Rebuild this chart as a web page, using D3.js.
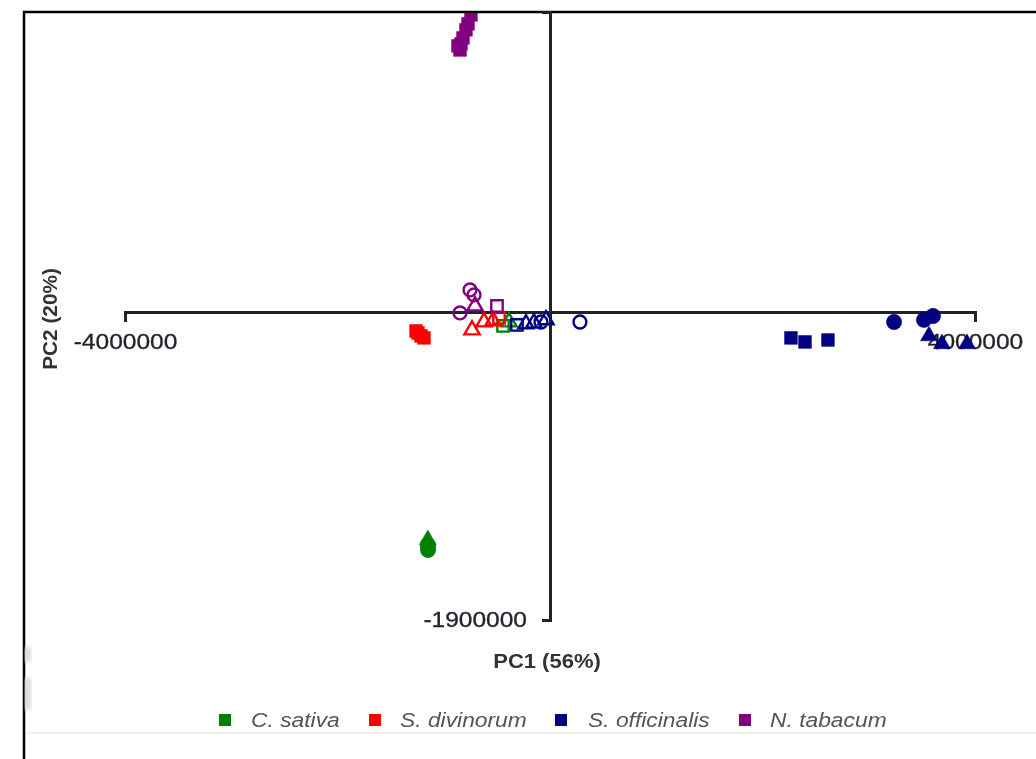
<!DOCTYPE html>
<html>
<head>
<meta charset="utf-8">
<script src="https://cdn.jsdelivr.net/npm/d3@7"></script>
<style>
  html, body { margin: 0; padding: 0; background: #fff; }
  svg { display: block; }
</style>
</head>
<body>
<svg id="chart" width="1036" height="759"></svg>
<script>
// PCA score plot: PC1 vs PC2, four plant species, marker shape = sample preparation
const species = ["C. sativa", "S. divinorum", "S. officinalis", "N. tabacum"];
const speciesColors = ["#008000", "#ff0000", "#000080", "#800080"];

const xTicks = [-4000000, 4000000];
const yTicks = [-1900000];
const xTitle = "PC1 (56%)";
const yTitle = "PC2 (20%)";

// [PC1, PC2] scores per group
const cSativaFilledCircle = [[-1148000, -1468000], [-1150000, -1437000], [-1146000, -1452000]];
const cSativaFilledTriangle = [[-1150000, -1405000]];
const cSativaOpenSquare = [[-442000, -86000]];
const cSativaOpenTriangle = [[-386000, -62000]];

const sDivinorumFilledSquare = [[-1242000, -130000], [-1214000, -148000], [-1261000, -117000], [-1186000, -160000]];
const sDivinorumOpenTriangle = [[-734000, -111000], [-621000, -62000], [-536000, -55000]];
const sDivinorumOpenSquare = [[-480000, -37000]];

const sOfficinalisFilledSquare = [[2268000, -160000], [2400000, -185000], [2616000, -173000]];
const sOfficinalisFilledCircle = [[3238000, -62000], [3520000, -49000], [3605000, -25000]];
const sOfficinalisFilledTriangle = [[3567000, -148000], [3689000, -197000], [3925000, -197000]];
const sOfficinalisOpenSquare = [[-311000, -80000]];
const sOfficinalisOpenTriangle = [[-226000, -74000], [-151000, -68000], [-38000, -49000]];
const sOfficinalisOpenCircle = [[-85000, -62000], [282000, -62000]];

const nTabacumFilledSquare = [[-744000, 1832000], [-772000, 1777000], [-791000, 1740000], [-819000, 1690000],
                              [-838000, 1653000], [-847000, 1616000], [-866000, 1641000], [-715000, 1900000]];
const nTabacumOpenCircle = [[-753000, 136000], [-715000, 105000], [-847000, -6000]];
const nTabacumOpenTriangle = [[-706000, 37000]];
const nTabacumOpenSquare = [[-499000, 37000]];

// group -> species index, symbol, filled
const groups = [
  { s: 0, shape: "circle", filled: true, pts: cSativaFilledCircle },
  { s: 0, shape: "triangle", filled: true, pts: cSativaFilledTriangle },
  { s: 0, shape: "square", filled: false, pts: cSativaOpenSquare },
  { s: 0, shape: "triangle", filled: false, pts: cSativaOpenTriangle },
  { s: 1, shape: "square", filled: true, pts: sDivinorumFilledSquare },
  { s: 1, shape: "triangle", filled: false, pts: sDivinorumOpenTriangle },
  { s: 1, shape: "square", filled: false, pts: sDivinorumOpenSquare },
  { s: 3, shape: "square", filled: true, pts: nTabacumFilledSquare },
  { s: 3, shape: "circle", filled: false, pts: nTabacumOpenCircle },
  { s: 3, shape: "triangle", filled: false, pts: nTabacumOpenTriangle },
  { s: 3, shape: "square", filled: false, pts: nTabacumOpenSquare },
  { s: 2, shape: "square", filled: true, pts: sOfficinalisFilledSquare },
  { s: 2, shape: "circle", filled: true, pts: sOfficinalisFilledCircle },
  { s: 2, shape: "triangle", filled: true, pts: sOfficinalisFilledTriangle },
  { s: 2, shape: "square", filled: false, pts: sOfficinalisOpenSquare },
  { s: 2, shape: "triangle", filled: false, pts: sOfficinalisOpenTriangle },
  { s: 2, shape: "circle", filled: false, pts: sOfficinalisOpenCircle }
];

const svg = d3.select("#chart");
const FONT = "'Liberation Sans', Arial, sans-serif";

// widen text horizontally by a factor, keeping its anchor
function stretch(sel, k) {
  sel.each(function () {
    const len = this.getComputedTextLength();
    d3.select(this).attr("textLength", len * k).attr("lengthAdjust", "spacingAndGlyphs");
  });
}

const x = d3.scaleLinear().domain([-4000000, 4000000]).range([125, 975]);
const y = d3.scaleLinear().domain([-1900000, 1850000]).range([620, 12]);

const defs = svg.append("defs");
defs.append("clipPath").attr("id", "plotClip")
  .append("rect").attr("x", 25).attr("y", 13).attr("width", 1011).attr("height", 718);
defs.append("filter").attr("id", "soft")
  .append("feGaussianBlur").attr("stdDeviation", 0.7);
defs.append("filter").attr("id", "smudge")
  .append("feGaussianBlur").attr("stdDeviation", 2);

// page frame
svg.append("line").attr("x1", 23).attr("x2", 1036).attr("y1", 12).attr("y2", 12)
  .attr("stroke", "#000").attr("stroke-width", 2.5);
svg.append("line").attr("x1", 24).attr("x2", 24).attr("y1", 11).attr("y2", 759)
  .attr("stroke", "#000").attr("stroke-width", 2.5);
svg.append("line").attr("x1", 26).attr("x2", 1036).attr("y1", 733).attr("y2", 733)
  .attr("stroke", "#e4ece4").attr("stroke-width", 1.5);
svg.append("rect").attr("x", 25).attr("y", 647).attr("width", 6).attr("height", 15)
  .attr("fill", "#d8d8d8").attr("filter", "url(#smudge)");
svg.append("rect").attr("x", 25).attr("y", 678).attr("width", 6).attr("height", 32)
  .attr("fill", "#d8d8d8").attr("filter", "url(#smudge)");

// axes through the origin
const xAxis = svg.append("g")
  .attr("transform", `translate(0,${y(0)})`)
  .call(d3.axisBottom(x).tickValues(xTicks).tickSizeInner(0).tickSizeOuter(10)
        .tickPadding(22).tickFormat(d => String(d)));
const yAxis = svg.append("g")
  .attr("transform", `translate(${x(0)},0)`)
  .call(d3.axisLeft(y).tickValues(yTicks).tickSizeInner(0).tickSizeOuter(8)
        .tickPadding(23).tickFormat(d => String(d)));

[xAxis, yAxis].forEach(g => {
  g.select(".domain").attr("stroke", "#222").attr("stroke-width", 3);
  g.selectAll(".tick line").remove();
  g.selectAll(".tick text")
    .attr("fill", "#22222c")
    .attr("stroke", "#22222c").attr("stroke-width", 0.3)
    .style("font-family", FONT)
    .style("font-size", "21.5px")
    .attr("filter", "url(#soft)")
    .call(stretch, 1.14);
});

// axis titles
svg.append("text").attr("x", 547).attr("y", 668)
  .attr("text-anchor", "middle")
  .style("font-family", FONT).style("font-size", "20px").style("font-weight", "bold")
  .attr("fill", "#333").attr("filter", "url(#soft)")
  .text(xTitle)
  .call(stretch, 1.1);
svg.append("text")
  .attr("transform", "translate(57,319) rotate(-90)")
  .attr("text-anchor", "middle")
  .style("font-family", FONT).style("font-size", "20px").style("font-weight", "bold")
  .attr("fill", "#333").attr("filter", "url(#soft)")
  .text(yTitle)
  .call(stretch, 1.04);

// score points
const symbolTypes = { circle: d3.symbolCircle, square: d3.symbolSquare, triangle: d3.symbolTriangle };
const filledSize = { circle: 185, square: 165, triangle: 125 };
const openSize = { circle: 130, square: 130, triangle: 100 };

const pts = svg.append("g").attr("clip-path", "url(#plotClip)")
  .append("g").attr("filter", "url(#soft)");

groups.forEach(g => {
  const col = speciesColors[g.s];
  const sym = d3.symbol().type(symbolTypes[g.shape])
    .size(g.filled ? filledSize[g.shape] : openSize[g.shape]);
  pts.selectAll(null).data(g.pts).enter().append("path")
    .attr("transform", d => `translate(${x(d[0])},${y(d[1])})`)
    .attr("d", sym)
    .attr("fill", g.filled ? col : "#fff")
    .attr("fill-opacity", g.filled ? 1 : 0)
    .attr("stroke", col)
    .attr("stroke-width", g.filled ? 0.5 : 2.4);
});

// legend
const legendBoxX = [219, 369, 555, 739];
const legendTextX = [251, 400, 588, 770];
const legend = svg.append("g").attr("filter", "url(#soft)");
species.forEach((name, i) => {
  legend.append("rect").attr("x", legendBoxX[i]).attr("y", 714)
    .attr("width", 12).attr("height", 12).attr("fill", speciesColors[i]);
  legend.append("text").attr("x", legendTextX[i]).attr("y", 727)
    .style("font-family", FONT).style("font-size", "19.5px").style("font-style", "italic")
    .attr("fill", "#555")
    .text(name)
    .call(stretch, 1.17);
});
</script>
</body>
</html>
